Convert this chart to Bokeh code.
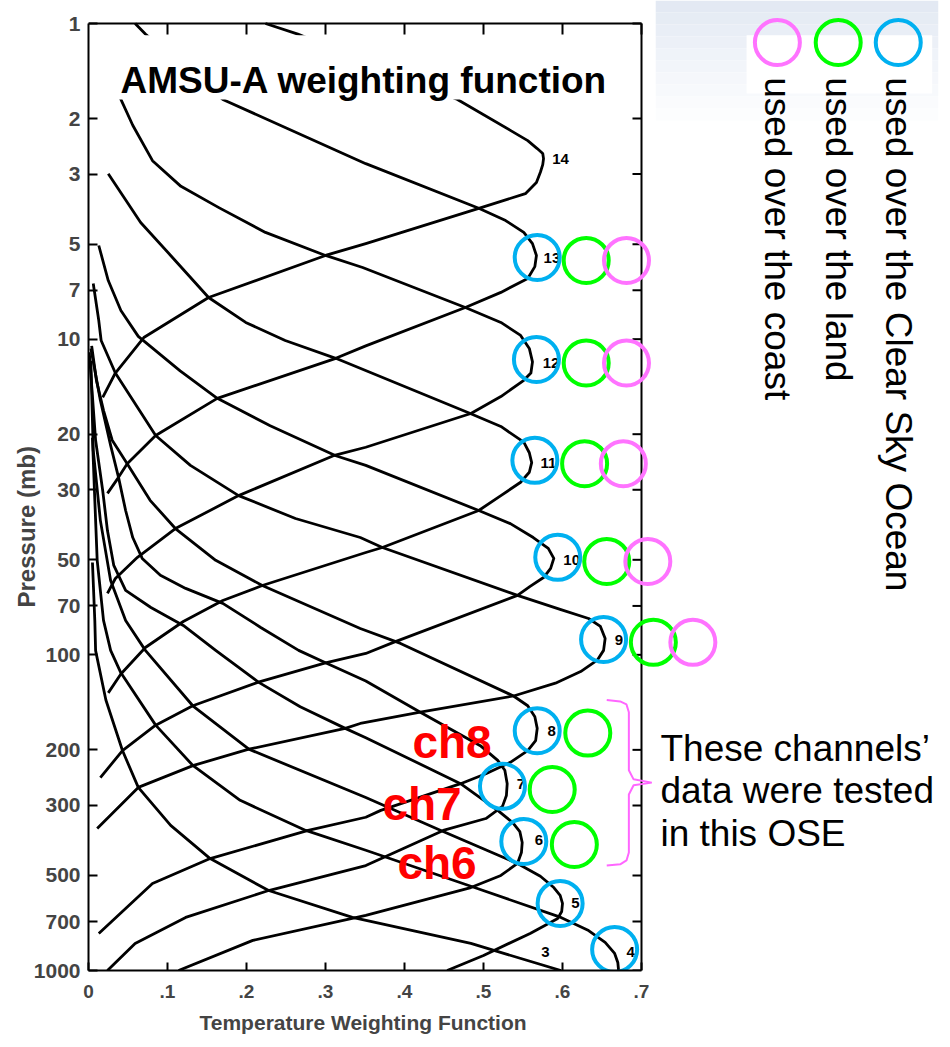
import math
from bokeh.plotting import figure
from bokeh.models import Range1d, FixedTicker, Title
from bokeh.core.properties import value
from bokeh.embed import file_html
from bokeh.resources import INLINE

# ---------------- data ----------------
channel_names = ["3", "4", "5", "6", "7", "8", "9", "10", "11", "12", "13", "14"]

ch3_weight = [0.005, 0.008, 0.009, 0.022, 0.043, 0.063, 0.104, 0.154, 0.228, 0.334, 0.484, 0.598]
ch3_pressure = [51, 78, 97, 139, 201, 263, 347, 442, 558, 679, 821, 1000]

ch4_weight = [0.005, 0.008, 0.011, 0.019, 0.028, 0.041, 0.085, 0.132, 0.192, 0.275, 0.351, 0.484,
              0.598, 0.633, 0.654, 0.666, 0.670, 0.671]
ch4_pressure = [20.5, 32.4, 50.2, 77.8, 96.8, 114, 167, 224, 289, 360, 416, 541,
                679, 747, 815, 883, 943, 1000]

ch5_weight = [0.003, 0.006, 0.015, 0.028, 0.047, 0.072, 0.132, 0.203, 0.351, 0.446, 0.543, 0.572,
              0.589, 0.597, 0.600, 0.599, 0.594, 0.559, 0.500, 0.454]
ch5_pressure = [11.7, 22.5, 37.5, 58.1, 77.8, 96.8, 145, 199, 283, 360, 458, 503,
                546, 578, 613, 650, 684, 763, 896, 1000]

ch6_weight = [0.001, 0.009, 0.018, 0.024, 0.032, 0.047, 0.079, 0.120, 0.161, 0.215, 0.268, 0.325,
              0.351, 0.471, 0.518, 0.537, 0.546, 0.549, 0.548, 0.543, 0.522, 0.484, 0.351, 0.208, 0.114]
ch6_pressure = [11.0, 20.9, 30.2, 40.4, 52.1, 62.5, 70.8, 80.7, 96.8, 122, 146, 171,
                183, 256, 311, 340, 363, 393, 423, 458, 500, 546, 669, 803, 1000]

ch7_weight = [0.003, 0.015, 0.028, 0.038, 0.047, 0.056, 0.068, 0.091, 0.123, 0.170, 0.218, 0.266,
              0.300, 0.351, 0.420, 0.496, 0.518, 0.527, 0.530, 0.529, 0.524, 0.503, 0.449, 0.351,
              0.228, 0.123, 0.059, 0.024]
ch7_pressure = [10.7, 15.6, 21.7, 27.4, 34.9, 42.5, 49.5, 56.0, 61.6, 68.7, 81.9, 96.8,
                106, 121, 152, 194, 216, 232, 256, 279, 302, 330, 360, 465,
                558, 679, 821, 1000]

ch8_weight = [0.004, 0.010, 0.019, 0.030, 0.049, 0.078, 0.110, 0.161, 0.220, 0.344, 0.395, 0.538,
              0.556, 0.565, 0.568, 0.566, 0.556, 0.534, 0.503, 0.471, 0.370, 0.351, 0.278, 0.154,
              0.081, 0.013]
ch8_pressure = [10.5, 13.5, 16.8, 20.9, 24.8, 32.4, 39.8, 50.2, 60.3, 82.5, 92.0, 135,
                145, 157, 171, 187, 201, 219, 238, 256, 311, 327, 360, 442,
                530, 763]

ch9_weight = [0.006, 0.013, 0.016, 0.034, 0.085, 0.129, 0.190, 0.262, 0.344, 0.372, 0.543, 0.597,
              0.633, 0.648, 0.654, 0.652, 0.644, 0.623, 0.591, 0.538, 0.420, 0.344, 0.325, 0.203,
              0.133, 0.063, 0.011]
ch9_pressure = [6.66, 8.73, 10.1, 12.8, 20.2, 25.1, 31.3, 37.0, 42.5, 45.7, 64.8, 71.8,
                76.7, 81.3, 88.7, 96.8, 104, 113, 123, 135, 152, 165, 171, 199,
                224, 263, 355]

ch10_weight = [0.013, 0.025, 0.041, 0.063, 0.116, 0.163, 0.230, 0.313, 0.351, 0.494, 0.534, 0.563,
               0.582, 0.589, 0.585, 0.576, 0.559, 0.543, 0.386, 0.351, 0.300, 0.215, 0.132, 0.085,
               0.043, 0.015]
ch10_pressure = [5.05, 6.52, 8.11, 9.80, 12.6, 15.4, 18.8, 23.4, 25.1, 34.9, 38.4, 42.5,
                 46.0, 49.5, 53.2, 56.9, 60.7, 64.8, 91.3, 99.0, 106, 122, 145, 167,
                 201, 245]

ch11_weight = [0.025, 0.066, 0.104, 0.152, 0.199, 0.249, 0.313, 0.481, 0.522, 0.551, 0.558, 0.561,
               0.558, 0.547, 0.522, 0.494, 0.372, 0.351, 0.220, 0.170, 0.120, 0.072, 0.041, 0.025]
ch11_pressure = [2.99, 4.27, 5.43, 7.38, 8.85, 10.1, 11.5, 17.1, 18.9, 21.2, 22.9, 24.6,
                 26.4, 28.4, 31.3, 34.9, 45.7, 47.4, 60.3, 67.3, 78.4, 94.8, 115, 132]

ch12_weight = [0.011, 0.041, 0.056, 0.081, 0.117, 0.165, 0.224, 0.300, 0.347, 0.477, 0.522, 0.547,
               0.558, 0.562, 0.560, 0.551, 0.522, 0.484, 0.351, 0.310, 0.190, 0.110, 0.062, 0.034,
               0.024]
ch12_pressure = [1.13, 1.74, 2.10, 2.72, 3.28, 3.83, 4.59, 5.43, 5.93, 7.94, 8.85, 9.73,
                 10.7, 11.8, 12.8, 13.5, 15.2, 17.2, 22.0, 23.4, 31.3, 39.8, 49.1, 57.3,
                 63.9]

ch13_weight = [0.059, 0.072, 0.170, 0.351, 0.494, 0.528, 0.551, 0.562, 0.567, 0.565, 0.556, 0.522,
               0.477, 0.351, 0.313, 0.163, 0.085, 0.049, 0.038, 0.024]
ch13_pressure = [1.0, 1.08, 1.74, 2.78, 3.85, 4.21, 4.59, 4.98, 5.43, 5.89, 6.42, 7.11,
                 7.94, 10.5, 11.5, 15.4, 20.2, 24.8, 27.4, 30.8]

ch14_weight = [0.224, 0.265, 0.467, 0.534, 0.556, 0.568, 0.575, 0.576, 0.575, 0.572, 0.567, 0.553,
               0.494, 0.351, 0.300, 0.152, 0.070, 0.034, 0.018]
ch14_pressure = [1.0, 1.08, 1.74, 2.18, 2.35, 2.49, 2.58, 2.68, 2.80, 2.96, 3.19, 3.46,
                 3.85, 4.98, 5.43, 7.38, 9.88, 12.8, 15.3]

curve_weights = [ch3_weight, ch4_weight, ch5_weight, ch6_weight, ch7_weight, ch8_weight,
                 ch9_weight, ch10_weight, ch11_weight, ch12_weight, ch13_weight, ch14_weight]
curve_pressures = [ch3_pressure, ch4_pressure, ch5_pressure, ch6_pressure, ch7_pressure, ch8_pressure,
                   ch9_pressure, ch10_pressure, ch11_pressure, ch12_pressure, ch13_pressure, ch14_pressure]

# channel number labels next to each peak
label_weight = [0.573, 0.681, 0.611, 0.565, 0.542, 0.581, 0.666, 0.601, 0.572, 0.575, 0.576, 0.587]
label_pressure = [876, 876, 613, 387, 256, 174, 90.0, 50.2, 24.6, 11.9, 5.55, 2.68]

pressure_ticks = [1, 2, 3, 5, 7, 10, 20, 30, 50, 70, 100, 200, 300, 500, 700, 1000]
pressure_tick_labels = ["1", "2", "3", "5", "7", "10", "20", "30", "50", "70",
                        "100", "200", "300", "500", "700", "1000"]
weight_ticks = [0, 0.1, 0.2, 0.3, 0.4, 0.5, 0.6, 0.7]
weight_tick_labels = ["0", ".1", ".2", ".3", ".4", ".5", ".6", ".7"]

# circles marking channel usage
ocean_channels = ["13", "12", "11", "10", "9", "8", "7", "6", "5", "4"]
ocean_weight = [0.568, 0.567, 0.565, 0.594, 0.652, 0.568, 0.524, 0.551, 0.597, 0.666]
ocean_pressure = [5.51, 11.6, 24.2, 49.1, 89.4, 174, 261, 390, 613, 858]

land_channels = ["13", "12", "11", "10", "9", "8", "7", "6"]
land_weight = [0.630, 0.630, 0.628, 0.656, 0.715, 0.632, 0.587, 0.615]
land_pressure = [5.63, 11.9, 24.8, 50.6, 91.3, 177, 267, 399]

coast_channels = ["13", "12", "11", "10", "9"]
coast_weight = [0.681, 0.681, 0.677, 0.708, 0.765]
coast_pressure = [5.63, 11.9, 24.8, 50.6, 91.3]

legend_labels = ["used over the Clear Sky Ocean", "used over the land", "used over the coast"]
legend_weight = [1.025, 0.949, 0.872]

tested_labels = ["ch8", "ch7", "ch6"]
tested_weight = [0.410, 0.372, 0.391]
tested_pressure = [189, 296, 455]

note_lines = ["These channels\u2019", "data were tested", "in this OSE"]
note_pressure = [198, 269, 368]

# ---------------- layout / style ----------------
FONT = "Liberation Sans"
BLUE, GREEN, PINK, RED = "#00b0f0", "#00ff00", "#ff73ff", "#ff0000"
W, H = 948, 1047
B_LEFT, B_RIGHT, B_BOTTOM = 88, 10, 77
BOX_TOP_PX = 23                      # chart box top edge (p = 1) below the page top
PX_PER_UNIT = 790.0                  # pixels per unit of weighting function
PX_PER_DECADE = 947 / 3.0            # pixels per pressure decade
X_END = (W - B_LEFT - B_RIGHT) / PX_PER_UNIT
P_TOP = pressure_ticks[0] * 10 ** (-BOX_TOP_PX / PX_PER_DECADE)
AXIS_MAX = weight_ticks[-1]
TICK_X = 9 / PX_PER_UNIT
TOP_TICK_P = pressure_ticks[0] * 10 ** (11 / PX_PER_DECADE)

p = figure(width=W, height=H, x_range=Range1d(0, X_END),
           y_range=Range1d(pressure_ticks[-1], P_TOP),
           y_axis_type="log", output_backend="svg", toolbar_location=None,
           min_border_left=B_LEFT, min_border_right=B_RIGHT,
           min_border_top=0, min_border_bottom=B_BOTTOM)
p.outline_line_color = None
p.grid.visible = False
p.background_fill_color = "white"
p.border_fill_color = "white"

# slide background gradient (top right) and white legend panel
band_edges = [P_TOP, 0.9229, 1.0073, 1.0994, 1.2000, 1.3097, 1.4296, 1.5606, 1.7029, 1.8585, 2.029]
band_colors = ["#e3e9f3", "#e6ecf4", "#e9eef6", "#ecf0f7", "#eff3f9", "#f2f5fa",
               "#f5f7fb", "#f7f9fc", "#fafbfd", "#fcfdfe"]
p.quad(left=[0.718] * 10, right=[X_END] * 10, top=band_edges[:-1], bottom=band_edges[1:],
       fill_color=band_colors, line_color=None)
p.quad(left=[0.833], right=[1.068], top=[1.09], bottom=[1.666], fill_color="white", line_color=None)

# bottom axis
xa = p.xaxis[0]
xa.bounds = (0, AXIS_MAX)
xa.ticker = FixedTicker(ticks=weight_ticks)
xa.major_label_overrides = dict(zip(weight_ticks, weight_tick_labels))
xa.major_tick_in = 8
xa.major_tick_out = 0
xa.minor_tick_in = 0
xa.minor_tick_out = 0
xa.axis_line_width = 2
xa.major_tick_line_width = 2
xa.major_label_text_font = FONT
xa.major_label_text_font_style = "bold"
xa.major_label_text_font_size = "19px"
xa.major_label_standoff = 14

# left axis
ya = p.yaxis[0]
ya.bounds = (pressure_ticks[0], pressure_ticks[-1])
ya.ticker = FixedTicker(ticks=pressure_ticks)
ya.major_label_overrides = dict(zip(pressure_ticks, pressure_tick_labels))
ya.major_tick_in = 9
ya.major_tick_out = 0
ya.minor_tick_in = 0
ya.minor_tick_out = 0
ya.axis_line_width = 2
ya.major_tick_line_width = 2
ya.major_label_text_font = FONT
ya.major_label_text_font_style = "bold"
ya.major_label_text_font_size = "21px"
ya.major_label_standoff = 8

# top edge (p = 1) and right edge (weight 0.7) of the chart box, with inward ticks
n = len(pressure_ticks)
m = len(weight_ticks) - 1
p.segment(x0=[0, AXIS_MAX], y0=[pressure_ticks[0], pressure_ticks[0]],
          x1=[AXIS_MAX, AXIS_MAX], y1=[pressure_ticks[0], pressure_ticks[-1]],
          line_color="black", line_width=2)
p.segment(x0=[AXIS_MAX] * n, y0=pressure_ticks, x1=[AXIS_MAX - TICK_X] * n, y1=pressure_ticks,
          line_color="black", line_width=2)
p.segment(x0=weight_ticks[1:], y0=[pressure_ticks[0]] * m, x1=weight_ticks[1:], y1=[TOP_TICK_P] * m,
          line_color="black", line_width=2)

# weighting function curves
p.multi_line(xs=curve_weights, ys=curve_pressures, line_color="black", line_width=2.8,
             line_join="round")

# channel numbers
p.text(x=label_weight, y=label_pressure, text=channel_names, text_font=value(FONT),
       text_font_size="15px", text_font_style="bold", text_color="black",
       text_align="left", text_baseline="middle")

# title box and title
p.quad(left=[0.004], right=[0.665], top=[1.09], bottom=[1.74], fill_color="white", line_color=None)
p.text(x=[0.0405], y=[1.516], text=["AMSU-A weighting function"], text_font=value(FONT),
       text_font_size="37px", text_font_style="bold", text_color="black",
       text_align="left", text_baseline="alphabetic")

# usage circles
p.scatter(x=ocean_weight, y=ocean_pressure, marker="circle", size=45, fill_color=None,
          line_color=BLUE, line_width=4)
p.scatter(x=land_weight, y=land_pressure, marker="circle", size=45, fill_color=None,
          line_color=GREEN, line_width=4)
p.scatter(x=coast_weight, y=coast_pressure, marker="circle", size=45, fill_color=None,
          line_color=PINK, line_width=4)

# legend
p.scatter(x=legend_weight, y=[1.149] * 3, marker="circle", size=45, fill_color=None,
          line_color=[BLUE, GREEN, PINK], line_width=4)
p.text(x=legend_weight, y=[1.48] * 3, text=legend_labels, angle=-math.pi / 2,
       text_font=value(FONT), text_font_size="37px", text_color="black",
       text_align="left", text_baseline="middle")

# tested channels
p.text(x=tested_weight, y=tested_pressure, text=tested_labels, text_font=value(FONT),
       text_font_size="46px", text_font_style="bold", text_color=RED,
       text_align="left", text_baseline="alphabetic")

bracket_weight = [0.656, 0.673, 0.681, 0.684, 0.684, 0.690, 0.713, 0.690, 0.684, 0.684, 0.681, 0.673, 0.656]
bracket_pressure = [139, 140.5, 143.6, 152, 232, 248, 254, 259, 277, 423, 448, 461, 465]
p.line(x=bracket_weight, y=bracket_pressure, line_color="#ff66ff", line_width=2)

p.text(x=[0.724] * 3, y=note_pressure, text=note_lines, text_font=value(FONT),
       text_font_size="37px", text_color="black", text_align="left", text_baseline="alphabetic")

# axis titles
x_title = Title(text="Temperature Weighting Function", align="left", offset=111,
                text_font=FONT, text_font_size="21px", text_font_style="bold", standoff=16)
p.add_layout(x_title, "below")
y_title = Title(text="Pressure (mb)", align="left", offset=363,
                text_font=FONT, text_font_size="24px", text_font_style="bold", standoff=-18)
p.add_layout(y_title, "left")

open("out.html", "w").write(file_html(p, INLINE, title="AMSU-A weighting function"))
